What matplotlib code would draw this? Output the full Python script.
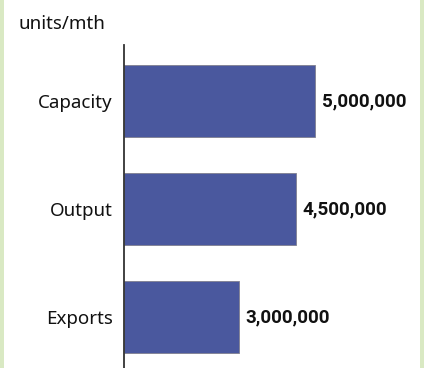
import matplotlib.pyplot as plt
from matplotlib.patches import Rectangle

# Daten
categories = ['Capacity', 'Output', 'Exports']
values = [5000000, 4500000, 3000000]
unit_label = 'units/mth'

W, H = 424, 368
fig = plt.figure(figsize=(W / 100, H / 100), dpi=100)
fig.patch.set_facecolor('white')

# gruene Randstreifen links und rechts
fig.patches.append(Rectangle((0, 0), 4 / W, 1, transform=fig.transFigure,
                             facecolor='#d9e9c3', edgecolor='none'))
fig.patches.append(Rectangle((420 / W, 0), 4 / W, 1, transform=fig.transFigure,
                             facecolor='#d9e9c3', edgecolor='none'))

ax_left, ax_right, ax_top = 124, 419, 45
ax = fig.add_axes([ax_left / W, 0, (ax_right - ax_left) / W, (H - ax_top) / H])

pos = list(range(len(categories)))
ax.barh(pos, values, height=0.667, color='#4a589e', edgecolor='#7f7f8f',
        linewidth=0.6, zorder=2)

ax.set_xlim(0, 5000000 * (ax_right - ax_left) / 191)
ax.set_ylim(2.47, -0.52)

fs = 13.5
fam = 'Noto Sans'
for y, v in zip(pos, values):
    ax.text(v + 7 * 5000000 / 191, y, f'{v:,}', va='center', ha='left',
            fontsize=13.5, fontweight='bold', family='Roboto', color='#111111')

ax.set_yticks(pos)
ax.set_yticklabels(categories, fontsize=fs, family=fam, color='#111111')
ax.tick_params(axis='y', length=0, pad=8)
ax.set_xticks([])

for s in ['top', 'right', 'bottom']:
    ax.spines[s].set_visible(False)
ax.spines['left'].set_color('#333333')
ax.spines['left'].set_linewidth(1.3)
ax.spines['left'].set_zorder(3)

fig.text(18 / W, 1 - 24 / H, unit_label, fontsize=fs, family=fam,
         va='center', ha='left', color='#111111')

fig.savefig('out.png', dpi=100)
